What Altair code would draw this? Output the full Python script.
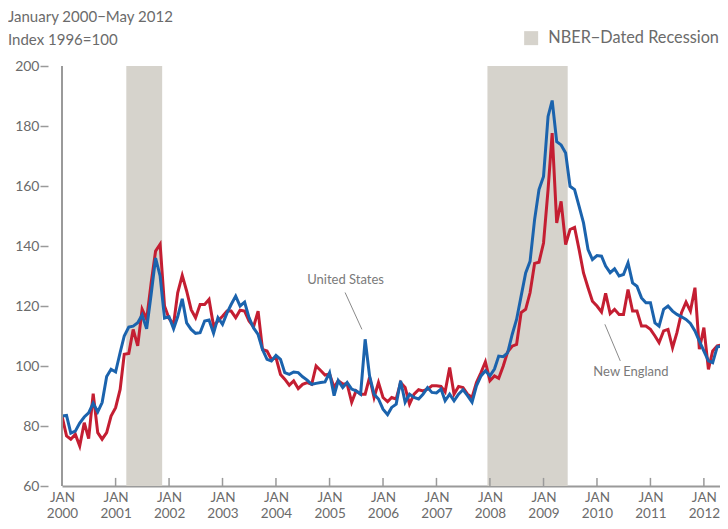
import altair as alt
import pandas as pd

# ---------------- data ----------------
months = pd.date_range("2000-01-01", "2012-05-01", freq="MS")

united_states = [
    83.3, 83.5, 77.6, 78.3, 81.0, 83.0, 84.4, 87.6, 84.7, 87.8, 96.5, 98.9,          # 2000
    98.0, 104.5, 110.0, 113.0, 113.3, 114.4, 117.0, 112.4, 124.0, 136.0, 130.0, 116.0,  # 2001
    116.4, 112.4, 116.4, 122.4, 114.4, 112.2, 110.9, 111.1, 115.0, 115.3, 110.9, 116.1,  # 2002
    113.9, 117.7, 120.5, 123.3, 120.0, 121.3, 116.1, 112.7, 110.5, 105.5, 102.2, 101.7,  # 2003
    103.5, 102.2, 97.8, 97.2, 98.0, 97.8, 96.4, 95.3, 93.9, 94.2, 94.5, 94.7,          # 2004
    97.8, 90.1, 95.1, 92.8, 94.5, 92.3, 91.7, 90.6, 108.9, 96.7, 90.6, 89.0,           # 2005
    85.6, 83.8, 86.2, 87.3, 95.1, 87.9, 90.6, 89.5, 89.0, 90.6, 92.8, 91.2,            # 2006
    91.0, 92.3, 88.4, 90.6, 88.4, 90.6, 92.1, 90.1, 87.9, 93.4, 96.7, 98.4,            # 2007
    96.7, 99.0, 103.3, 103.1, 104.4, 110.5, 115.5, 123.3, 131.0, 134.9, 148.8, 158.8,  # 2008
    163.2, 183.2, 188.5, 174.8, 173.7, 171.0, 159.9, 158.8, 153.2, 147.7, 138.8, 135.5,  # 2009
    136.8, 136.6, 133.3, 131.1, 132.4, 130.0, 130.5, 134.4, 127.7, 126.6, 122.7, 121.1,  # 2010
    121.1, 114.4, 113.3, 118.9, 120.0, 118.3, 117.2, 116.4, 115.5, 114.2, 111.7, 108.3,  # 2011
    105.0, 101.7, 101.1, 106.4, 106.5,                                                   # 2012
]

new_england = [
    83.3, 76.7, 75.6, 77.2, 73.3, 81.1, 75.8, 90.8, 77.8, 75.6, 77.8, 83.3,            # 2000
    86.1, 92.2, 103.9, 104.2, 112.2, 106.7, 118.9, 115.6, 127.8, 138.3, 140.6, 120.0,  # 2001
    115.8, 113.9, 124.4, 130.2, 125.0, 118.8, 116.1, 120.5, 120.5, 122.2, 113.3, 115.0,  # 2002
    116.6, 118.3, 118.3, 116.1, 118.6, 118.3, 115.0, 113.1, 118.3, 105.5, 105.0, 102.2,  # 2003
    102.8, 97.2, 95.6, 93.6, 95.0, 92.5, 93.9, 94.5, 93.9, 100.0, 98.5, 97.0,          # 2004
    97.3, 92.8, 95.1, 94.0, 94.0, 87.9, 91.7, 90.6, 90.6, 96.2, 89.5, 94.5,            # 2005
    89.5, 88.1, 89.5, 89.0, 94.5, 92.8, 87.3, 90.6, 92.1, 91.7, 92.3, 93.4,            # 2006
    93.4, 93.2, 91.4, 99.5, 90.6, 93.2, 92.8, 90.6, 89.5, 94.5, 97.8, 101.4,           # 2007
    95.1, 96.7, 95.9, 100.0, 104.7, 106.6, 107.2, 117.8, 118.9, 124.4, 134.2, 134.6,   # 2008
    141.0, 158.8, 177.6, 147.7, 154.9, 140.5, 145.5, 146.2, 138.8, 131.0, 126.1, 121.6,  # 2009
    120.0, 118.0, 124.2, 117.5, 118.9, 117.2, 117.2, 125.5, 118.3, 118.3, 113.3, 113.3,  # 2010
    112.2, 110.0, 107.8, 111.7, 112.2, 106.1, 111.1, 117.8, 121.3, 118.3, 126.1, 105.6,  # 2011
    112.8, 98.9, 105.0, 106.7, 107.0,                                                    # 2012
]

recession_start = ["2001-03-15", "2007-12-15"]
recession_end = ["2001-11-15", "2009-06-15"]
recession_label = "NBER\u2212Dated Recession"

tick_years = list(range(2000, 2013))
y_ticks = [60, 80, 100, 120, 140, 160, 180, 200]

ann_text = ["United States", "New England"]
ann_text_date = ["2005-04-20", "2010-08-21"]
ann_text_value = [128.8, 97.9]
ann_line_date1 = ["2005-04-17", "2010-02-24"]
ann_line_value1 = [124.5, 113.9]
ann_line_date2 = ["2005-08-10", "2010-06-09"]
ann_line_value2 = [112.2, 101.7]

title_lines = ["January 2000\u2212May 2012", "Index 1996=100"]

# ---------------- styling ----------------
FONT = "Lato"
GREY_TEXT = "#6b6b6b"
AXIS_GREY = "#9a9a9a"
BLUE = "#1b63ad"
RED = "#c41e32"
SHADE = "#d6d3cc"

# ---------------- tables ----------------
us_df = pd.DataFrame({"date": months, "value": united_states})
ne_df = pd.DataFrame({"date": months, "value": new_england})
rec_df = pd.DataFrame({
    "start": pd.to_datetime(recession_start),
    "end": pd.to_datetime(recession_end),
    "label": [recession_label] * len(recession_start),
})
tick_df = pd.DataFrame({
    "date": pd.to_datetime([f"{y}-01-01" for y in tick_years]),
    "lo": [y_ticks[0]] * len(tick_years),
    "hi": [y_ticks[0] + 2.7] * len(tick_years),
})
yline_df = pd.DataFrame({
    "date": pd.to_datetime([f"{tick_years[0]}-01-01"]),
    "lo": [y_ticks[0]],
    "hi": [y_ticks[-1]],
})
ann_df = pd.DataFrame({
    "text": ann_text,
    "date": pd.to_datetime(ann_text_date),
    "value": ann_text_value,
})
lead_df = pd.DataFrame({
    "d1": pd.to_datetime(ann_line_date1),
    "v1": ann_line_value1,
    "d2": pd.to_datetime(ann_line_date2),
    "v2": ann_line_value2,
})

x_scale = alt.Scale(domain=[alt.DateTime(year=2000, month=1, date=1),
                            alt.DateTime(year=2012, month=4, date=20)])
y_scale = alt.Scale(domain=[60, 200], nice=False, zero=False)

x_axis = alt.Axis(
    values=[alt.DateTime(year=y, month=1, date=1) for y in tick_years],
    labelExpr="['JAN', timeFormat(datum.value, '%Y')]",
    ticks=False, grid=False, title=None,
    domainColor=AXIS_GREY, domainWidth=2,
    labelFont=FONT, labelFontSize=13.5, labelColor=GREY_TEXT,
    labelPadding=4.5, labelLineHeight=16.3, labelFlush=False, labelOverlap=False,
)
y_axis = alt.Axis(
    values=y_ticks, domain=False, grid=False, title=None, offset=14,
    tickSize=8, tickColor=AXIS_GREY, tickWidth=1.5,
    labelFont=FONT, labelFontSize=14, labelColor=GREY_TEXT,
    labelPadding=1, labelFlush=False,
)


def X(field):
    return alt.X(field, scale=x_scale, axis=x_axis)


def Y(field):
    return alt.Y(field, scale=y_scale, axis=y_axis)


shade = alt.Chart(rec_df).mark_rect().encode(
    x=X("start:T"),
    x2="end:T",
    color=alt.Color("label:N", scale=alt.Scale(range=[SHADE]),
                    legend=alt.Legend(orient="none", legendX=461, legendY=-36,
                                      title=None, symbolType="square", symbolSize=196,
                                      symbolStrokeWidth=0, symbolOpacity=1,
                                      labelFont=FONT, labelFontSize=16.3, labelLimit=400,
                                      labelColor=GREY_TEXT, labelOffset=9, padding=0)),
)

ne_line = alt.Chart(ne_df).mark_line(color=RED, strokeWidth=3, clip=True).encode(
    x=X("date:T"), y=Y("value:Q"),
)
us_line = alt.Chart(us_df).mark_line(color=BLUE, strokeWidth=3, clip=True).encode(
    x=X("date:T"), y=Y("value:Q"),
)

xticks = alt.Chart(tick_df).mark_rule(color=AXIS_GREY, strokeWidth=1.5).encode(
    x=X("date:T"), y=Y("lo:Q"), y2="hi:Q",
)

yline = alt.Chart(yline_df).mark_rule(color=AXIS_GREY, strokeWidth=2).encode(
    x=X("date:T"), y=Y("lo:Q"), y2="hi:Q",
)

leaders = alt.Chart(lead_df).mark_rule(color="#8a8a8a", strokeWidth=1).encode(
    x=X("d1:T"), x2="d2:T", y=Y("v1:Q"), y2="v2:Q",
)

labels = alt.Chart(ann_df).mark_text(font=FONT, fontSize=13, color="#7a7a7a",
                                     align="center", baseline="middle").encode(
    x=X("date:T"), y=Y("value:Q"), text="text:N",
)

chart = alt.layer(shade, ne_line, us_line, xticks, yline, leaders, labels).properties(
    width=658,
    height=420,
    autosize=alt.AutoSizeParams(type="none"),
    padding={"left": 54, "top": 58, "right": 0, "bottom": 35},
    title=alt.TitleParams(text=title_lines, anchor="start", frame="group", dx=-54, dy=22,
                          font=FONT, fontSize=15, fontWeight="normal",
                          color=GREY_TEXT, lineHeight=23),
).configure(background="white", view=alt.ViewConfig(stroke=None))

chart.save("out.html", embed_options={"renderer": "svg", "actions": False})
